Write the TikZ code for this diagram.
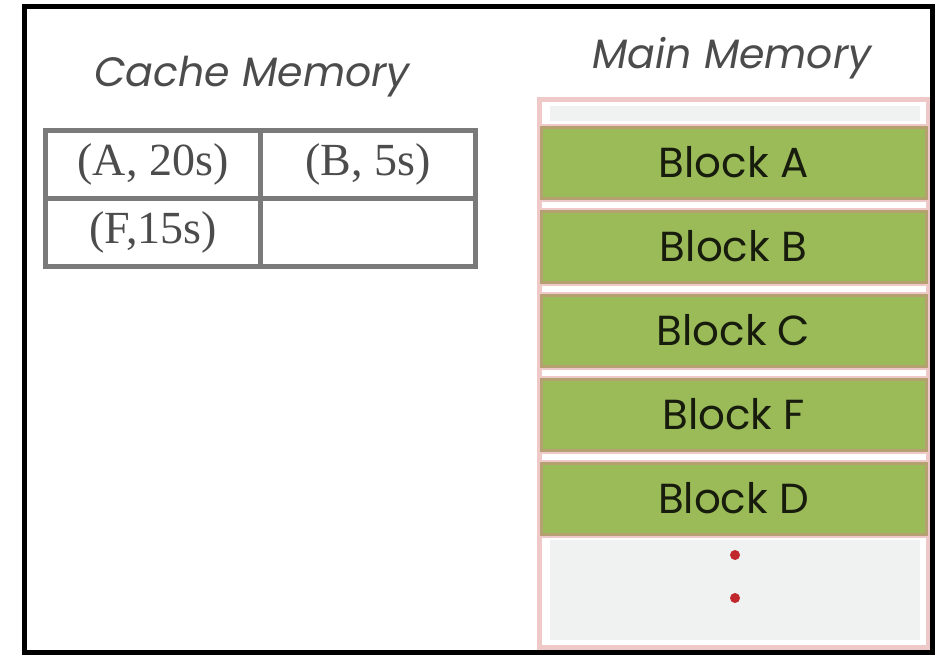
\documentclass[tikz,border=0pt]{standalone}
\usepackage{fontspec}
\setmainfont{Liberation Serif}
\newfontfamily\gothic{Poppins}
\usetikzlibrary{positioning}
\definecolor{blockgreen}{HTML}{9BBB59}
\definecolor{blockedge}{HTML}{B4A070}
\definecolor{memopink}{HTML}{EFC8C8}
\definecolor{slotgray}{HTML}{F0F1F1}
\definecolor{gridgray}{HTML}{7A7A7A}
\definecolor{dotred}{HTML}{C0282D}

\begin{document}
\begin{tikzpicture}[x=0.5pt,y=-0.5pt,
    cell/.style={draw=gridgray, line width=2.5pt, minimum width=107.5pt, minimum height=34pt,
                 inner sep=0pt, outer sep=0pt, text=black!70, font=\fontsize{23}{23}\selectfont},
    block/.style={fill=blockgreen, draw=blockedge, line width=1.5pt,
                  preaction={draw=memopink, line width=3.5pt},
                  minimum width=192.5pt, minimum height=35.5pt, inner sep=0pt, outer sep=0pt,
                  text=black!85!blockgreen, font=\gothic\fontsize{21}{21}\selectfont},
    title/.style={text=black!70, font=\gothic\itshape\fontsize{20.5}{20.5}\selectfont}]
                \useasboundingbox (0,0) rectangle (945,659);
                \fill[white] (0,0) rectangle (945,659);
                \node[title] (cachetitle) at (252,77) {Cache Memory};
                \node[title] (maintitle) at (732,58) {Main Memory};
                \node[cell] (c11) at (153,164) {(A, 20s)};
                \node[cell, right=0pt of c11] (c12) {(B, 5s)};
                \node[cell, below=0pt of c11] (c21) {(F,15s)};
                \node[cell, right=0pt of c21] (c22) {};
                \draw[memopink, fill=white, line width=2.5pt] (539,99.5) rectangle (928,647.5);
                \fill[slotgray] (550,106) rectangle (920,121);
                \fill[slotgray] (550,540) rectangle (920,640);
                \node[block] (blka) at (733.5,162.5) {Block A};
                \node[block, below=6.5pt of blka] (blkb) {Block B};
                \node[block, below=6.5pt of blkb] (blkc) {Block C};
                \node[block, below=6.5pt of blkc] (blkf) {Block F};
                \node[block, below=6.5pt of blkf] (blkd) {Block D};
                \fill[dotred] (735,555) circle (5);
                \fill[dotred] (735,598) circle (5);
                \draw[black, line width=2.5pt] (24.5,6.5) rectangle (932.5,652.5);
            \end{tikzpicture}
\end{document}
